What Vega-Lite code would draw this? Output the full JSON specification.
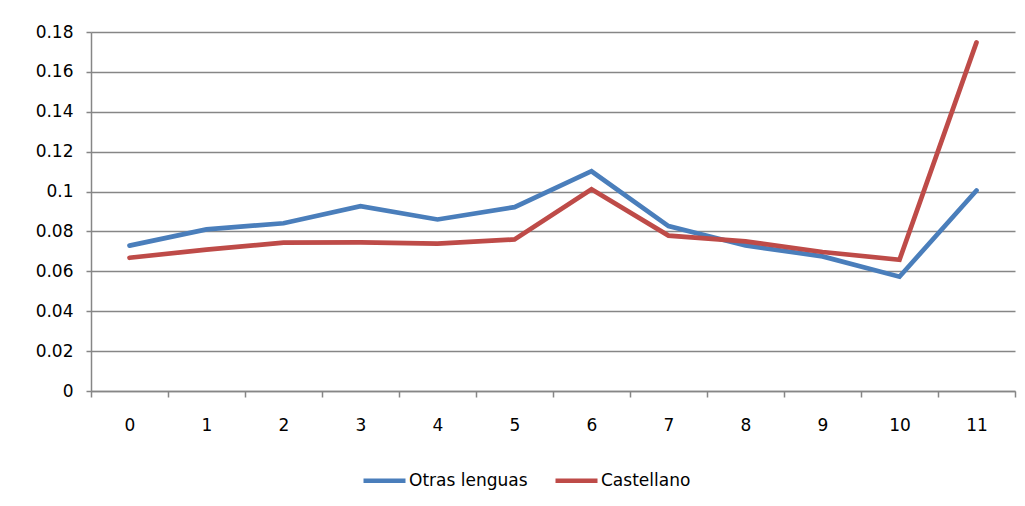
{
  "$schema": "https://vega.github.io/schema/vega-lite/v6.json",
  "autosize": "none",
  "width": 924,
  "height": 359,
  "padding": {"left": 91, "top": 32, "right": 10, "bottom": 115},
  "background": "white",
  "config": {
    "view": {"stroke": null},
    "font": "DejaVu Sans"
  },
  "data": {
    "values": [
      {"x": 0, "serie": "Otras lenguas", "v": 0.0729},
      {"x": 1, "serie": "Otras lenguas", "v": 0.0810},
      {"x": 2, "serie": "Otras lenguas", "v": 0.0841},
      {"x": 3, "serie": "Otras lenguas", "v": 0.0927},
      {"x": 4, "serie": "Otras lenguas", "v": 0.0860},
      {"x": 5, "serie": "Otras lenguas", "v": 0.0922},
      {"x": 6, "serie": "Otras lenguas", "v": 0.1102},
      {"x": 7, "serie": "Otras lenguas", "v": 0.0827},
      {"x": 8, "serie": "Otras lenguas", "v": 0.0730},
      {"x": 9, "serie": "Otras lenguas", "v": 0.0675},
      {"x": 10, "serie": "Otras lenguas", "v": 0.0573},
      {"x": 11, "serie": "Otras lenguas", "v": 0.1005},
      {"x": 0, "serie": "Castellano", "v": 0.0668},
      {"x": 1, "serie": "Castellano", "v": 0.0709},
      {"x": 2, "serie": "Castellano", "v": 0.0744},
      {"x": 3, "serie": "Castellano", "v": 0.0745},
      {"x": 4, "serie": "Castellano", "v": 0.0739},
      {"x": 5, "serie": "Castellano", "v": 0.0760},
      {"x": 6, "serie": "Castellano", "v": 0.1012},
      {"x": 7, "serie": "Castellano", "v": 0.0779},
      {"x": 8, "serie": "Castellano", "v": 0.0750},
      {"x": 9, "serie": "Castellano", "v": 0.0697},
      {"x": 10, "serie": "Castellano", "v": 0.0658},
      {"x": 11, "serie": "Castellano", "v": 0.1748}
    ]
  },
  "mark": {"type": "line", "strokeWidth": 4.7, "strokeJoin": "miter", "strokeCap": "round"},
  "encoding": {
    "x": {
      "field": "x",
      "type": "quantitative",
      "scale": {"domain": [-0.5, 11.5], "nice": false, "zero": false},
      "axis": {
        "title": null,
        "grid": false,
        "values": [-0.5, 0, 0.5, 1, 1.5, 2, 2.5, 3, 3.5, 4, 4.5, 5, 5.5, 6, 6.5, 7, 7.5, 8, 8.5, 9, 9.5, 10, 10.5, 11, 11.5],
        "labelExpr": "datum.value % 1 == 0 ? '' + datum.value : ''",
        "labelOverlap": false,
        "labelFlush": false,
        "labelBound": false,
        "labelFont": "DejaVu Sans",
        "labelFontSize": 17,
        "labelColor": "#000000",
        "labelPadding": 20,
        "tickSize": 6,
        "tickWidth": 1.5,
        "tickColor": "#868686",
        "tickOpacity": {"condition": {"test": "datum.value % 1 != 0", "value": 1}, "value": 0},
        "domainColor": "#868686",
        "domainWidth": 1.5
      }
    },
    "y": {
      "field": "v",
      "type": "quantitative",
      "scale": {"domain": [0, 0.18], "nice": false},
      "axis": {
        "title": null,
        "values": [0, 0.02, 0.04, 0.06, 0.08, 0.1, 0.12, 0.14, 0.16, 0.18],
        "format": "~g",
        "labelFont": "DejaVu Sans",
        "labelFontSize": 17,
        "labelColor": "#000000",
        "labelPadding": 13,
        "tickSize": 5,
        "tickWidth": 1.5,
        "tickColor": "#868686",
        "grid": true,
        "gridColor": "#868686",
        "gridWidth": 1.5,
        "domainColor": "#868686",
        "domainWidth": 1.5
      }
    },
    "color": {
      "field": "serie",
      "type": "nominal",
      "sort": ["Otras lenguas", "Castellano"],
      "scale": {"domain": ["Otras lenguas", "Castellano"], "range": ["#4A7EBB", "#BE4B48"]},
      "legend": {
        "title": null,
        "orient": "none",
        "direction": "horizontal",
        "legendX": 270,
        "legendY": 425,
        "symbolType": "stroke",
        "symbolSize": 1764,
        "symbolStrokeWidth": 4.5,
        "labelFont": "DejaVu Sans",
        "labelFontSize": 17,
        "labelColor": "#000000",
        "labelOffset": 1,
        "columnPadding": 18,
        "padding": 0
      }
    }
  }
}
